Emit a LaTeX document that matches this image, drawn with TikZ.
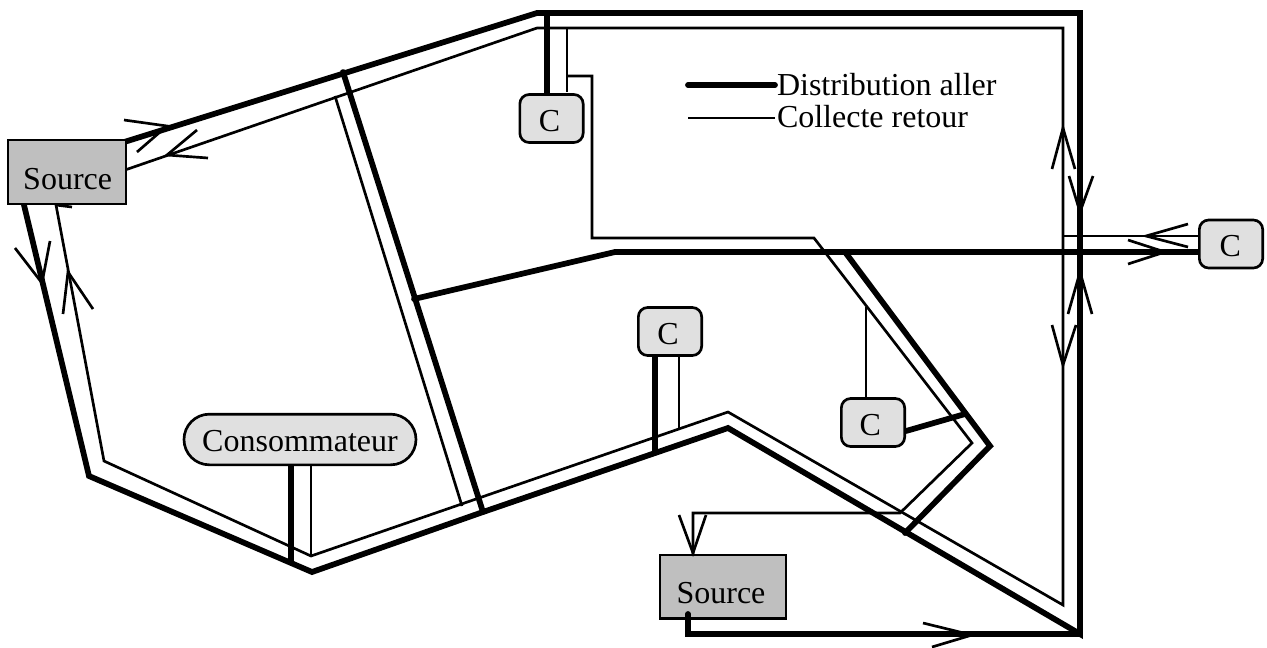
\documentclass[tikz,border=0pt]{standalone}
\usepackage{fontspec}
\setmainfont{Liberation Serif}
\tikzset{
  x=0.75pt,y=-0.75pt,
  aller/.style={line width=4.3pt,line cap=round,line join=miter,black},
  retour/.style={line width=2pt,line join=miter,black},
  barb/.style={line width=2pt,line join=miter,black},
  boxbase/.style={draw=black,line width=2pt,inner sep=0pt,outer sep=0pt,font=\fontsize{24}{26}\selectfont,text depth=0pt},
  sourcebox/.style={boxbase,rectangle,fill=srcgray,text height=25.5pt},
  cbox/.style={boxbase,rectangle,rounded corners=7pt,fill=cgray,minimum width=47.5pt,minimum height=36pt,text height=19pt},
  legendtext/.style={inner sep=0pt,outer sep=0pt,anchor=base west,font=\fontsize{24}{26}\selectfont}
}
\definecolor{srcgray}{HTML}{BFBFBF}
\definecolor{cgray}{HTML}{E0E0E0}
\newcommand{\padr}[1]{\rule{#1}{0pt}}
\begin{document}
\begin{tikzpicture}
\useasboundingbox (0,0) rectangle (1267,647);
% nodes positions
\coordinate (ta) at (537,13); \coordinate (tb) at (1080,13); \coordinate (tc) at (1080,634);
\coordinate (td) at (728,428); \coordinate (te) at (483,512); \coordinate (tf) at (312,572);
\coordinate (tg) at (89,476); \coordinate (th) at (343,72); \coordinate (ti) at (414,299);
\coordinate (tj) at (615,252); \coordinate (tk) at (845,252); \coordinate (tl) at (990,446);
\coordinate (tm) at (905,533); \coordinate (tn) at (965,414);
\coordinate (ra) at (537,28); \coordinate (rb) at (1063,28); \coordinate (rc) at (1063,605);
\coordinate (rd) at (728,412); \coordinate (re) at (311,556); \coordinate (rf) at (104,461);
\coordinate (rg) at (335,96); \coordinate (rh) at (462,506);
% retour (thin)
\draw[retour] (125,170) -- (ra) -- (rb) -- (rc) -- (rd) -- (re) -- (rf) -- (56,205);
\draw[retour] (rg) -- (rh);
\draw[retour] (567,28) -- (567,92);
\draw[retour] (567,76) -- (592,76) -- (592,238) -- (814,238) -- (972,443) -- (900,513) -- (693,513) -- (693,555);
\draw[retour] (866,307) -- (866,398);
\draw[retour] (679,355) -- (679,428);
\draw[retour] (311,465) -- (re);
\draw[retour] (1063,236) -- (1200,236);
\draw[retour] (56,205) -- (72,207);
% aller (thick)
\draw[aller] (121,143) -- (ta) -- (tb) -- (tc) -- (td) -- (te) -- (tf) -- (tg) -- (24,205);
\draw[aller] (th) -- (te);
\draw[aller] (ti) -- (tj) -- (1200,252);
\draw[aller] (tk) -- (tl) -- (tm);
\draw[aller] (906,431) -- (tn);
\draw[aller] (547,13) -- (547,95);
\draw[aller] (655,453) -- (655,355);
\draw[aller] (291,562) -- (291,465);
% boxes
\node[sourcebox,minimum width=88.5pt,minimum height=48pt] (s1) at (67,172) {\padr{1pt}Source};
\node[sourcebox,minimum width=94.5pt,minimum height=47.5pt] (s2) at (723,586.5) {Source\padr{3pt}};
\node[cbox] (c1) at (551.5,118.5) {C\padr{3pt}};
\node[cbox] (c2) at (1231,244) {C\padr{1pt}};
\node[cbox] (c3) at (670,331.5) {C\padr{3pt}};
\node[cbox] (c4) at (873,422.5) {C\padr{4pt}};
\node[boxbase,rectangle,rounded corners=19pt,fill=cgray,minimum width=174pt,minimum height=38pt,text height=18pt] (cons) at (300,439.5) {Consommateur};
% source 2 outlet
\draw[aller] (688,614) -- (688,634) -- (tc);
% legend
\node[legendtext] (l1) at (777,95) {Distribution aller};
\node[legendtext] (l2) at (777,127) {Collecte retour};
\draw[aller] (688,85) -- (775,85);
\draw[retour] (688,118) -- (775,118);
% arrowheads
\draw[barb] (124,120) -- (167,126) -- (137,152);
\draw[barb] (197,130) -- (167,155) -- (208,158);
\draw[barb] (15,248) -- (42,283) -- (50,241);
\draw[barb] (63,314) -- (68,272) -- (93,309);
\draw[barb] (1052,169) -- (1063,128) -- (1075,169);
\draw[barb] (1069,176) -- (1080,212) -- (1093,176);
\draw[barb] (1188,224) -- (1146,236) -- (1188,247);
\draw[barb] (1128,240) -- (1165,252) -- (1128,264);
\draw[barb] (1068,314) -- (1080,272) -- (1092,314);
\draw[barb] (1052,325) -- (1063,365) -- (1076,325);
\draw[barb] (923,623) -- (972,635) -- (932,647);
\draw[barb] (679,515) -- (693,553) -- (706,515);
\end{tikzpicture}
\end{document}
